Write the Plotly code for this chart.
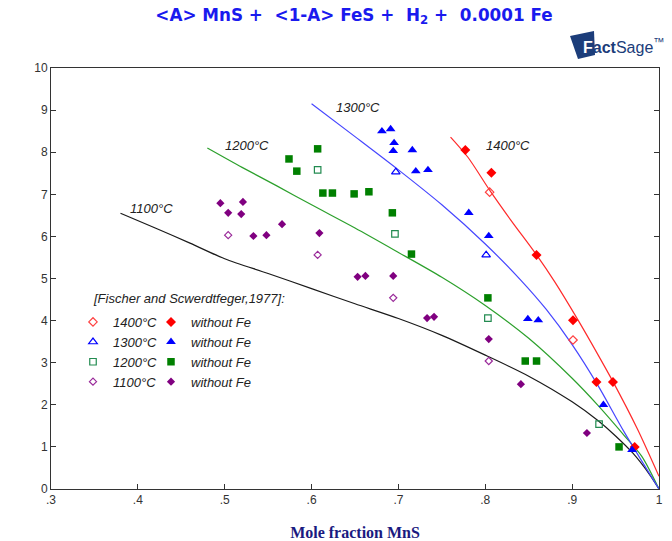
import plotly.graph_objects as go

# ---------------- data ----------------
# calculated curves (FactSage)
black_x = [0.38, 0.42, 0.46, 0.50, 0.55, 0.60, 0.65, 0.70, 0.75, 0.80, 0.85, 0.90, 0.93, 0.95, 0.97, 0.99, 1.0]
black_y = [6.55, 6.20, 5.84, 5.47, 5.12, 4.76, 4.40, 4.05, 3.65, 3.18, 2.68, 2.07, 1.62, 1.26, 0.85, 0.32, 0.0]
green_x = [0.48, 0.52, 0.56, 0.60, 0.65, 0.70, 0.75, 0.80, 0.85, 0.90, 0.93, 0.96, 0.98, 1.0]
green_y = [8.10, 7.64, 7.20, 6.75, 6.20, 5.62, 5.03, 4.36, 3.58, 2.63, 1.98, 1.27, 0.78, 0.0]
blue_x = [0.60, 0.65, 0.70, 0.75, 0.80, 0.84, 0.87, 0.90, 0.93, 0.96, 1.0]
blue_y = [9.15, 8.37, 7.58, 6.75, 5.82, 4.98, 4.27, 3.43, 2.45, 1.35, 0.0]
red_x = [0.76, 0.78, 0.805, 0.83, 0.859, 0.88, 0.906, 0.93, 0.947, 0.975, 1.0]
red_y = [8.36, 7.88, 7.10, 6.37, 5.56, 4.92, 4.04, 3.18, 2.55, 1.43, 0.30]

# experimental points [Fischer and Scwerdtfeger, 1977]
r_open_x = [0.805, 0.901]
r_open_y = [7.05, 3.54]
r_fill_x = [0.777, 0.807, 0.859, 0.901, 0.928, 0.947, 0.972]
r_fill_y = [8.05, 7.51, 5.56, 4.01, 2.54, 2.54, 1.00]

b_open_x = [0.697, 0.801]
b_open_y = [7.53, 5.56]
b_fill_x = [0.681, 0.691, 0.695, 0.694, 0.716, 0.720, 0.734, 0.781, 0.804, 0.849, 0.861, 0.936, 0.969]
b_fill_y = [8.50, 8.55, 8.22, 8.03, 8.05, 7.55, 7.58, 6.56, 6.01, 4.04, 4.01, 2.00, 0.93]

g_open_x = [0.607, 0.696, 0.803, 0.931]
g_open_y = [7.58, 6.06, 4.06, 1.54]
g_fill_x = [0.574, 0.583, 0.607, 0.613, 0.624, 0.649, 0.666, 0.693, 0.715, 0.803, 0.846, 0.859, 0.954]
g_fill_y = [7.84, 7.55, 8.08, 7.03, 7.03, 7.01, 7.06, 6.56, 5.58, 4.54, 3.04, 3.04, 1.00]

p_open_x = [0.504, 0.607, 0.694, 0.804]
p_open_y = [6.03, 5.56, 4.54, 3.04]
p_fill_x = [0.495, 0.521, 0.504, 0.519, 0.533, 0.548, 0.566, 0.609, 0.653, 0.662, 0.694, 0.733, 0.741, 0.804, 0.841, 0.917]
p_fill_y = [6.79, 6.82, 6.56, 6.53, 6.01, 6.03, 6.29, 6.08, 5.04, 5.06, 5.06, 4.06, 4.09, 3.56, 2.49, 1.33]

x_ticks = [0.3, 0.4, 0.5, 0.6, 0.7, 0.8, 0.9, 1.0]
x_tick_text = [".3", ".4", ".5", ".6", ".7", ".8", ".9", "1"]
y_ticks = list(range(0, 11))

temp_labels = ["1100°C", "1200°C", "1300°C", "1400°C"]
temp_label_x = [0.416, 0.526, 0.653, 0.826]
temp_label_y = [6.67, 8.15, 9.05, 8.17]

# ---------------- layout helpers ----------------
W, H = 672, 541
L, R, T, B = 51, 13, 68, 52


def pxx(x):
    return (x - L) / (W - L - R)


def pxy(y):
    return (H - B - y) / (H - T - B)


fig = go.Figure()

curve_specs = [
    (black_x, black_y, "#1a1a1a"),
    (green_x, green_y, "#2ca02c"),
    (blue_x, blue_y, "#4646ff"),
    (red_x, red_y, "#ff2a2a"),
]
for xs, ys, c in curve_specs:
    fig.add_trace(go.Scatter(x=xs, y=ys, mode="lines",
                             line=dict(color=c, width=1.2, shape="spline", smoothing=0.8),
                             showlegend=False, hoverinfo="skip"))

point_specs = [
    ("1400°C", r_open_x, r_open_y, "diamond-open", "#ff4040", 6.5, "without Fe", r_fill_x, r_fill_y, "diamond", "#ff0000", 7.7),
    ("1300°C", b_open_x, b_open_y, "triangle-up-open", "#0000ff", 7.5, "without Fe", b_fill_x, b_fill_y, "triangle-up", "#0000ff", 8.5),
    ("1200°C", g_open_x, g_open_y, "square-open", "#228b50", 6.5, "without Fe", g_fill_x, g_fill_y, "square", "#008000", 7.5),
    ("1100°C", p_open_x, p_open_y, "diamond-open", "#9a2a9a", 5.5, "without Fe", p_fill_x, p_fill_y, "diamond", "#800080", 6.3),
]
for (n1, ox, oy, osym, oc, osz, n2, fx, fy, fsym, fc, fsz) in point_specs:
    fig.add_trace(go.Scatter(x=ox, y=oy, mode="markers", name=n1, legend="legend",
                             marker=dict(symbol=osym, color=oc, size=osz, line=dict(color=oc, width=1.2))))
    fig.add_trace(go.Scatter(x=fx, y=fy, mode="markers", name=n2, legend="legend2",
                             marker=dict(symbol=fsym, color=fc, size=fsz, line=dict(width=0))))

for t, x, y in zip(temp_labels, temp_label_x, temp_label_y):
    fig.add_annotation(x=x, y=y, text=t, showarrow=False, xref="x", yref="y",
                       font=dict(family="Liberation Sans, Arial", size=13, color="#222222", style="italic"))

fig.add_annotation(x=pxx(91), y=pxy(298), xref="paper", yref="paper", xanchor="left", yanchor="middle",
                   text="[Fischer and Scwerdtfeger,1977]:", showarrow=False,
                   font=dict(family="Liberation Sans, Arial", size=13, color="#222222", style="italic"))

# FactSage logo
fig.add_shape(type="path", xref="paper", yref="paper",
              path="M {} {} L {} {} L {} {} L {} {} Z".format(
                  pxx(570), pxy(36), pxx(594), pxy(31), pxx(595), pxy(55), pxx(578), pxy(59)),
              fillcolor="#1c3d7a", line=dict(width=0))
fig.add_annotation(x=pxx(581), y=pxy(46), xref="paper", yref="paper", xanchor="left", yanchor="middle",
                   showarrow=False,
                   text="<b><span style='color:white'>F</span>act</b>Sage<sup>™</sup>",
                   font=dict(family="Liberation Sans, Arial", size=16, color="#1c3d7a"))

leg_font = dict(family="Liberation Sans, Arial", size=13, color="#222222", style="italic")
fig.update_layout(
    width=W, height=H,
    margin=dict(l=L, r=R, t=T, b=B),
    paper_bgcolor="white", plot_bgcolor="white",
    title=dict(text="&lt;A&gt; MnS +\u00a0\u00a0&lt;1-A&gt; FeS +\u00a0\u00a0H<sub>2</sub> +\u00a0\u00a00.0001 Fe",
               x=354 / W, xanchor="center", y=1 - 15 / H, yanchor="middle",
               font=dict(family="DejaVu Sans, Liberation Sans", size=16.8, color="#1a1aee", weight="bold")),
    legend=dict(x=pxx(73), y=pxy(307), xanchor="left", yanchor="top", bgcolor="rgba(0,0,0,0)",
                font=leg_font, tracegroupgap=0),
    legend2=dict(x=pxx(151), y=pxy(307), xanchor="left", yanchor="top", bgcolor="rgba(0,0,0,0)",
                 font=leg_font, tracegroupgap=0),
    xaxis=dict(range=[0.3, 1.0], tickvals=x_ticks, ticktext=x_tick_text, ticks="inside", ticklen=5,
               tickcolor="#333", showline=True, linecolor="#333", linewidth=1, mirror=True,
               showgrid=False, zeroline=False, automargin=False,
               tickfont=dict(family="Liberation Sans, Arial", size=12, color="#333"),
               title=dict(text="<b>Mole fraction MnS</b>", standoff=20,
                          font=dict(family="Liberation Serif, Times New Roman", size=16, color="#1a1a80"))),
    yaxis=dict(range=[0, 10], tickvals=y_ticks, ticks="inside", ticklen=5, tickcolor="#333",
               showline=True, linecolor="#333", linewidth=1, mirror="ticks",
               showgrid=False, zeroline=False, automargin=False,
               tickfont=dict(family="Liberation Sans, Arial", size=12, color="#333")),
)

fig.write_html("out.html")
